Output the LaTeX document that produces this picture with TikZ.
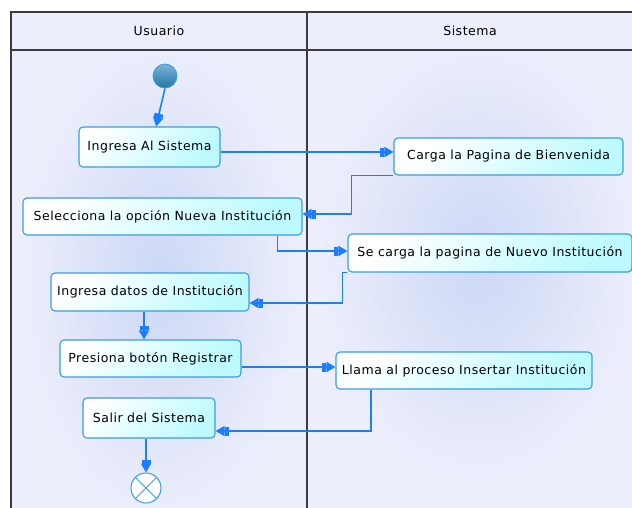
\documentclass[tikz,border=0pt]{standalone}
\usepackage{fontspec}
\usepackage{xcolor}
\usepackage{tikz}
\usetikzlibrary{arrows.meta,positioning,calc}
\newfontfamily\umlfont[LetterSpace=4]{DejaVu Sans}
\definecolor{umlFlow}{RGB}{28,126,255}
\definecolor{umlEdge}{RGB}{58,158,222}
\definecolor{umlFill}{RGB}{188,250,255}
\definecolor{umlLane}{RGB}{236,238,252}
\definecolor{umlGlow}{RGB}{204,216,245}
\definecolor{umlFrame}{RGB}{60,60,60}
\definecolor{umlStartTop}{RGB}{122,180,215}
\definecolor{umlStartBot}{RGB}{36,116,166}
\tikzset{
  font=\umlfont\fontsize{12.5}{15}\selectfont,
  % swimlane parts
  lanebody/.style={fill=umlLane},
  laneglow/.style={inner color=umlGlow, outer color=umlLane},
  laneline/.style={draw=umlFrame, line width=1.3pt},
  lanehead/.style={inner sep=0pt, text=black},
  % activity states
  action/.style={
    rounded corners=4pt,
    draw=umlEdge,
    line width=1.1pt,
    top color=white,
    bottom color=umlFill,
    shading angle=45,
    minimum height=37pt,
    inner sep=0pt,
    align=center
  },
  startdot/.style={
    circle,
    draw=umlEdge,
    line width=0.8pt,
    top color=umlStartTop,
    bottom color=umlStartBot,
    minimum size=24pt,
    inner sep=0pt
  },
  enddot/.style={
    circle,
    draw=umlEdge,
    line width=1pt,
    fill=white,
    minimum size=30pt,
    inner sep=0pt,
    path picture={
      \draw[umlEdge, line width=1pt]
        (path picture bounding box.south west) -- (path picture bounding box.north east)
        (path picture bounding box.north west) -- (path picture bounding box.south east);
    }
  },
  % transitions
  flow/.style={
    draw=umlFlow,
    line width=1.6pt,
    -{Rectangle[length=4pt,width=9pt,sep=0pt]Triangle[length=9pt,width=10pt]}
  }
}

\begin{document}
\begin{tikzpicture}[x=1pt,y=-1pt]

\clip (0,0) rectangle (632,507);
\fill[white] (0,0) rectangle (632,507);

% lanes
\fill[lanebody] (11,12) rectangle (640,515);
\shade[laneglow] (20,40) rectangle (300,520);
\shade[laneglow] (318,40) rectangle (640,480);
\fill[lanebody] (11,12) rectangle (640,50);
\draw[laneline] (11,515) -- (11,12) -- (640,12);
\draw[laneline] (11,50) -- (640,50);
\draw[laneline] (307,12) -- (307,515);

\node[lanehead] (usuario) at (159,31) {Usuario};
\node[lanehead] (sistema) at (470,31) {Sistema};

% states
\node[startdot] (inicio) at (165,76) {};

\node[action, minimum width=141pt, minimum height=40pt] (ingresa) at (149.5,147) {Ingresa Al Sistema};
\node[action, minimum width=229pt] (carga) at (508.5,156.5) {Carga la Pagina de Bienvenida};
\node[action, minimum width=279pt] (selecciona) at (162.5,216.5) {Selecciona la opción Nueva Institución};
\node[action, minimum width=284pt, minimum height=38pt] (secarga) at (490,253) {Se carga la pagina de Nuevo Institución};
\node[action, minimum width=198pt, minimum height=38pt] (datos) at (150,292) {Ingresa datos de Institución};
\node[action, minimum width=181pt] (presiona) at (150.5,358.5) {Presiona botón Registrar};
\node[action, minimum width=256pt] (llama) at (464,370.5) {Llama al proceso Insertar Institución};
\node[action, minimum width=132pt, minimum height=40pt] (salir) at (149,418) {Salir del Sistema};

\node[enddot] (fin) at (146,488) {};

% transitions
\draw[flow] (inicio.south) -- ([xshift=6.5pt]ingresa.north);
\draw[flow] ([yshift=-5pt]ingresa.east) -- ([yshift=-5pt]ingresa.east -| carga.west);
\draw[flow] (carga.south west) -- ++(-42,0) |- ([yshift=2.5pt]selecciona.east);
\draw[flow] ([xshift=115pt]selecciona.south) |- ([yshift=2pt]secarga.west);
\draw[flow] (secarga.south west) -- ++(-5,0) |- ([yshift=-11pt]datos.east);
\draw[flow] ([xshift=-6pt]datos.south) -- ([xshift=-6pt]datos.south |- presiona.north);
\draw[flow] ([yshift=-8.5pt]presiona.east) -- ([yshift=-8.5pt]presiona.east -| llama.west);
\draw[flow] ([xshift=-93pt]llama.south) |- ([yshift=-13pt]salir.east);
\draw[flow] (salir.south -| fin.north) -- (fin.north);

\end{tikzpicture}
\end{document}
